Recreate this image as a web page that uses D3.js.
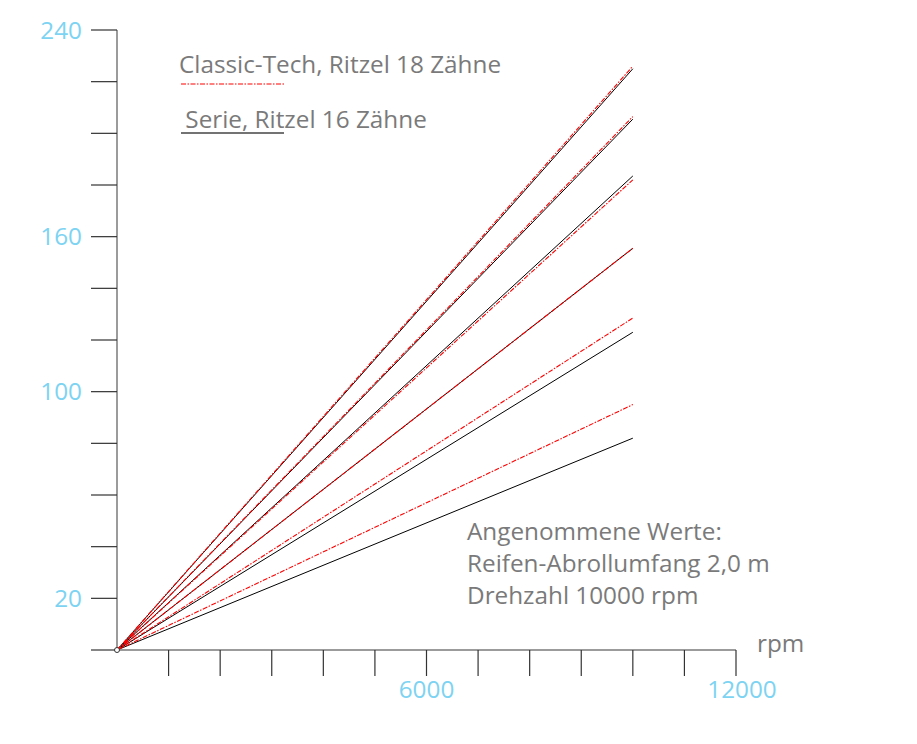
<!DOCTYPE html>
<html><head><meta charset="utf-8">
<script src="https://cdn.jsdelivr.net/npm/d3@7"></script>
<style>body{margin:0;background:#fff}svg{display:block}text{font-family:"Open Sans",sans-serif}</style>
</head><body><svg id="c" width="917" height="744"></svg>
<script>
const gears = ["1","2","3","4","5","6"];
const classicTech = [95, 128.5, 155.5, 182, 206.5, 226];   // km/h at 10000 rpm, 18 teeth
const serie = [82, 123, 155.5, 183.5, 205.5, 225];          // km/h at 10000 rpm, 16 teeth
const rpmEnd = 10000;
const yTickValues = d3.range(0, 241, 20);
const yLabelValues = [20, 100, 160, 240];
const xTickValues = d3.range(0, 12001, 1000);
const xLabelValues = [6000, 12000];
const legendLabels = ["Classic-Tech, Ritzel 18 Zähne", " Serie, Ritzel 16 Zähne"];
const noteLines = ["Angenommene Werte:", "Reifen-Abrollumfang 2,0 m", "Drehzahl 10000 rpm"];

const svg = d3.select("#c");
const x = d3.scaleLinear().domain([0, 12000]).range([117, 736]);
const y = d3.scaleLinear().domain([0, 240]).range([650, 30]);
const gray = "#7a7a7a", blue = "#7dd3f2";
const fs = 24.3;

// y axis
svg.append("line").attr("x1", x(0)).attr("x2", x(0)).attr("y1", y(240)).attr("y2", y(0))
  .attr("stroke", gray).attr("stroke-width", 1.5);
svg.selectAll(".yt").data(yTickValues).join("line")
  .attr("x1", x(0) - 26).attr("x2", x(0)).attr("y1", d => y(d)).attr("y2", d => y(d))
  .attr("stroke", "#333").attr("stroke-width", 1.2);
svg.selectAll(".yl").data(yLabelValues).join("text")
  .attr("x", x(0) - 35).attr("y", d => y(d)).attr("dy", "0.36em")
  .attr("text-anchor", "end").attr("fill", blue).attr("font-size", fs).text(d => d);

// x axis
svg.append("line").attr("x1", x(0)).attr("x2", x(12000)).attr("y1", y(0)).attr("y2", y(0))
  .attr("stroke", gray).attr("stroke-width", 1.5);
svg.selectAll(".xt").data(xTickValues.filter(d => d > 0)).join("line")
  .attr("x1", d => x(d)).attr("x2", d => x(d)).attr("y1", y(0)).attr("y2", y(0) + 26)
  .attr("stroke", "#333").attr("stroke-width", 1.2);
svg.selectAll(".xl").data(xLabelValues).join("text")
  .attr("x", d => x(d) + (d === 12000 ? 6 : 0)).attr("y", 698)
  .attr("text-anchor", "middle").attr("fill", blue).attr("font-size", fs).text(d => d);
svg.append("text").attr("x", 757).attr("y", 652).attr("fill", gray).attr("font-size", fs).text("rpm");

// lines
const line = d3.line().x(d => x(d[0])).y(d => y(d[1]));
svg.selectAll(".s").data(serie).join("path")
  .attr("d", v => line([[0, 0], [rpmEnd, v]])).attr("fill", "none")
  .attr("stroke", "#000").attr("stroke-width", 1);
svg.selectAll(".ct").data(classicTech).join("path")
  .attr("d", v => line([[0, 0], [rpmEnd, v]])).attr("fill", "none")
  .attr("stroke", "#ff0000").attr("stroke-width", 1.1).attr("stroke-dasharray", "5,1.5,1.5,1.5");

svg.append("circle").attr("cx", x(0)).attr("cy", y(0)).attr("r", 2.5)
  .attr("fill", "#fff").attr("stroke", "#333").attr("stroke-width", 1);

// legend
svg.append("text").attr("x", 179).attr("y", 73).attr("fill", gray).attr("font-size", fs).text(legendLabels[0]);
svg.append("line").attr("x1", 181).attr("x2", 285).attr("y1", 84).attr("y2", 84)
  .attr("stroke", "#ff0000").attr("stroke-width", 1.2).attr("stroke-dasharray", "5,1.5,1.5,1.5");
svg.append("text").attr("x", 179).attr("y", 128).attr("fill", gray).attr("font-size", fs)
  .attr("xml:space", "preserve").style("white-space", "pre").text(legendLabels[1]);
svg.append("line").attr("x1", 181).attr("x2", 284).attr("y1", 133).attr("y2", 133)
  .attr("stroke", "#444").attr("stroke-width", 1.5);

// note
svg.selectAll(".note").data(noteLines).join("text")
  .attr("x", 467).attr("y", (d, i) => 540 + i * 32)
  .attr("fill", gray).attr("font-size", fs).text(d => d);
</script></body></html>
